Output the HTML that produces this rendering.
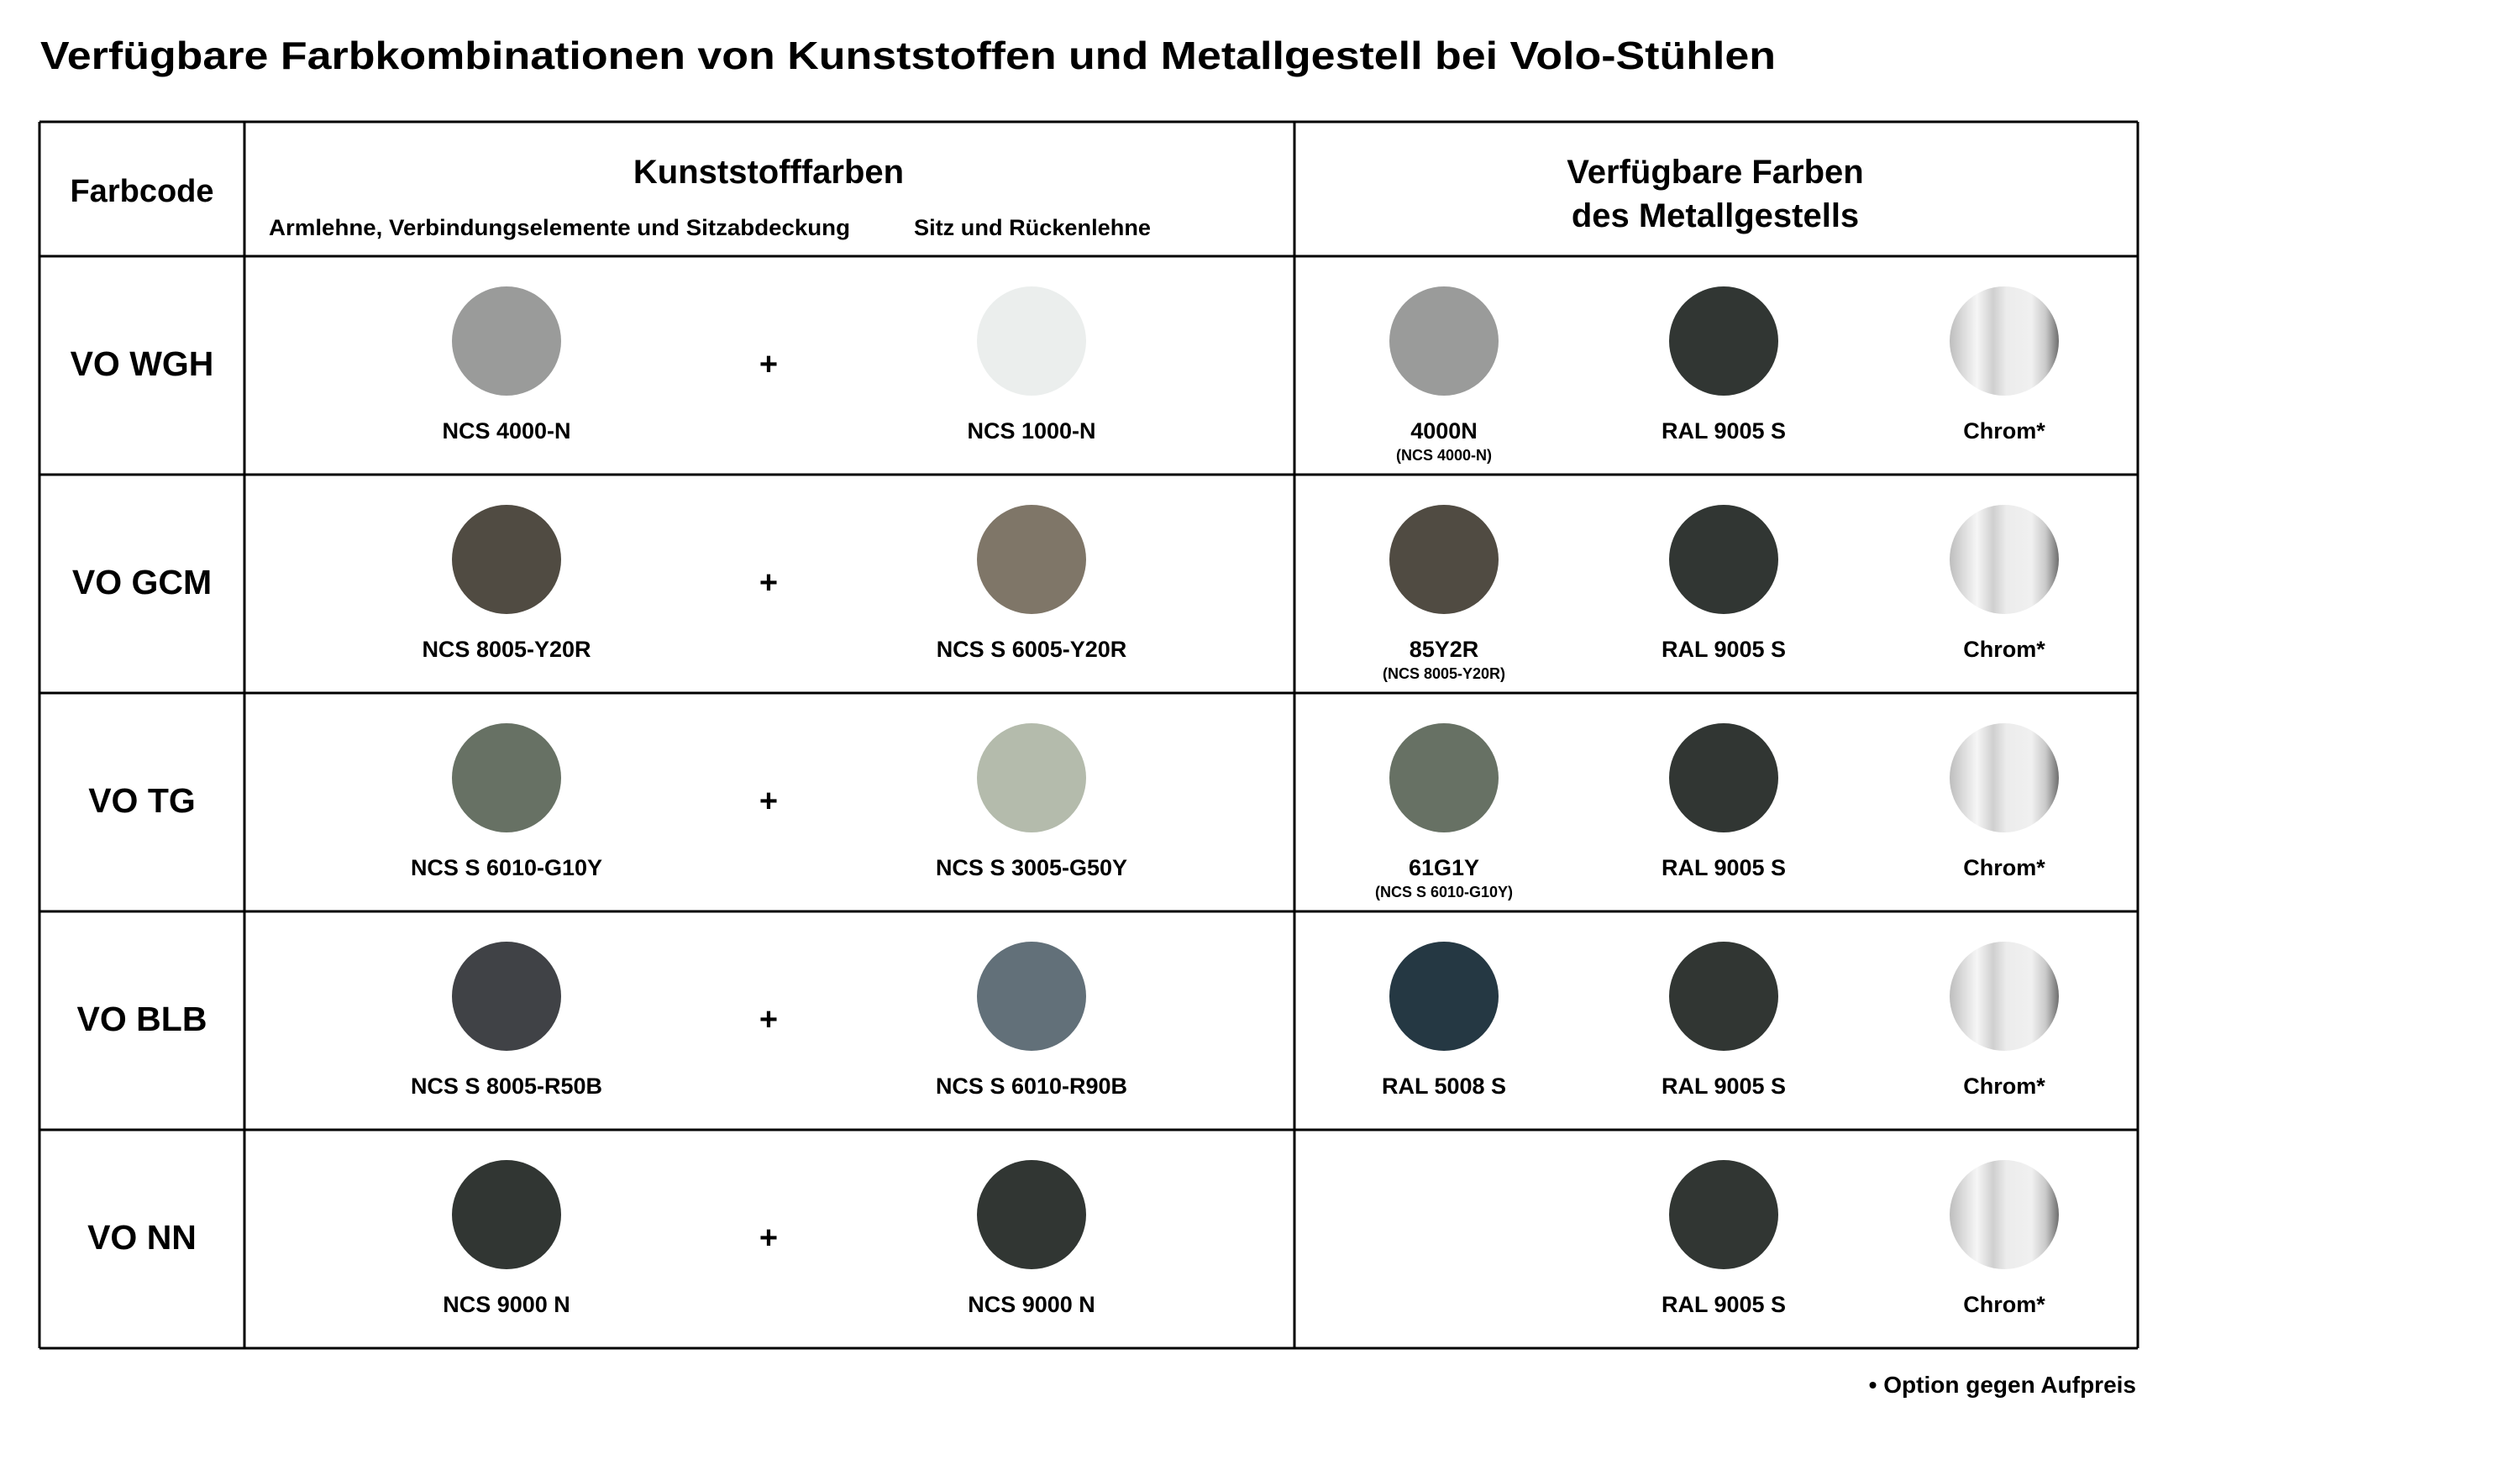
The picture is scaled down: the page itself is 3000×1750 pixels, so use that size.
<!DOCTYPE html>
<html><head><meta charset="utf-8"><style>
html,body{margin:0;padding:0;background:#fff;}
svg{display:block;}
text{font-family:"Liberation Sans",sans-serif;font-weight:bold;fill:#000;}
</style></head><body>
<svg id="chart" width="3000" height="1750" viewBox="0 0 3000 1750" xmlns="http://www.w3.org/2000/svg">
<defs>
<linearGradient id="chrome" x1="0" y1="0" x2="1" y2="0">
<stop offset="0" stop-color="#bdbdbd"/>
<stop offset="0.12" stop-color="#dadada"/>
<stop offset="0.25" stop-color="#f6f6f6"/>
<stop offset="0.4" stop-color="#cfcfcf"/>
<stop offset="0.52" stop-color="#ececec"/>
<stop offset="0.75" stop-color="#f0f0f0"/>
<stop offset="0.88" stop-color="#c9c9c9"/>
<stop offset="1" stop-color="#6e6e6e"/>
</linearGradient>
</defs>
<text x="48" y="82" font-size="46" textLength="2066" lengthAdjust="spacingAndGlyphs">Verfügbare Farbkombinationen von Kunststoffen und Metallgestell bei Volo-Stühlen</text>
<g id="grid"></g>
<text x="169" y="240" font-size="38" text-anchor="middle">Farbcode</text>
<text x="915" y="218" font-size="40" text-anchor="middle">Kunststofffarben</text>
<text x="320" y="280" font-size="27" textLength="692" lengthAdjust="spacingAndGlyphs">Armlehne, Verbindungselemente und Sitzabdeckung</text>
<text x="1088" y="280" font-size="27" textLength="282" lengthAdjust="spacingAndGlyphs">Sitz und Rückenlehne</text>
<text x="2042" y="218" font-size="40" text-anchor="middle">Verfügbare Farben</text>
<text x="2042" y="270" font-size="40" text-anchor="middle">des Metallgestells</text>
<g id="rows"></g>
<text x="2543" y="1658" font-size="28" text-anchor="end">• Option gegen Aufpreis</text>
</svg>
<script>
const codes = ["VO WGH","VO GCM","VO TG","VO BLB","VO NN"];
const armColors = ["#9a9b9a","#504b42","#677164","#404246","#313633"];
const armLabels = ["NCS 4000-N","NCS 8005-Y20R","NCS S 6010-G10Y","NCS S 8005-R50B","NCS 9000 N"];
const seatColors = ["#ebeeed","#7f7668","#b4bbac","#627079","#313633"];
const seatLabels = ["NCS 1000-N","NCS S 6005-Y20R","NCS S 3005-G50Y","NCS S 6010-R90B","NCS 9000 N"];
const frameColors = ["#9a9b9a","#504b42","#677164","#253843",null];
const frameLabels = ["4000N","85Y2R","61G1Y","RAL 5008 S",""];
const frameSub = ["(NCS 4000-N)","(NCS 8005-Y20R)","(NCS S 6010-G10Y)","",""];
const blackColor = "#313633", blackLabel = "RAL 9005 S", chromeLabel = "Chrom*";

const NS = "http://www.w3.org/2000/svg";
const L=47,C1=291,C2=1541,R=2545,T=145,H0=305,RH=260;
const rowY = i => H0 + i*RH;
function el(tag, attrs, parent){const e=document.createElementNS(NS,tag);for(const k in attrs)e.setAttribute(k,attrs[k]);parent.appendChild(e);return e;}
const grid=document.getElementById('grid');
const rows=document.getElementById('rows');
function line(x1,y1,x2,y2){const l=el('line',{x1,y1,x2,y2,stroke:'#000','stroke-width':3},grid);

}
line(L,T,R,T);
for(let i=0;i<=codes.length;i++)line(L,rowY(i),R,rowY(i));
[L,C1,C2,R].forEach(x=>line(x,T,x,rowY(codes.length)));

function swatch(cx,cy,fill,label,sub,name){
  const g=el('g',{},rows);
  
  
  if(fill){const c=el('circle',{cx,cy:cy+101,r:65,fill},g);
  
  }
  if(label){const t=el('text',{x:cx,y:cy+217,'font-size':27,'text-anchor':'middle'},g);t.textContent=label;
  
  }
  if(sub){const s=el('text',{x:cx,y:cy+243,'font-size':18,'text-anchor':'middle'},g);s.textContent=sub;
  
  }
}
codes.forEach((code,i)=>{
  const y=rowY(i);
  const t=el('text',{x:169,y:y+142,'font-size':41,'text-anchor':'middle'},rows);t.textContent=code;
  
  
  swatch(603,y,armColors[i],armLabels[i],'','arm-swatch');
  const p=el('text',{x:915,y:y+141,'font-size':38,'text-anchor':'middle'},rows);p.textContent='+';
  
  
  swatch(1228,y,seatColors[i],seatLabels[i],'','seat-swatch');
  swatch(1719,y,frameColors[i],frameLabels[i],frameSub[i],'frame-swatch');
  swatch(2052,y,blackColor,blackLabel,'','black-frame-swatch');
  swatch(2386,y,'url(#chrome)',chromeLabel,'','chrome-frame-swatch');
});
</script>
</body></html>
